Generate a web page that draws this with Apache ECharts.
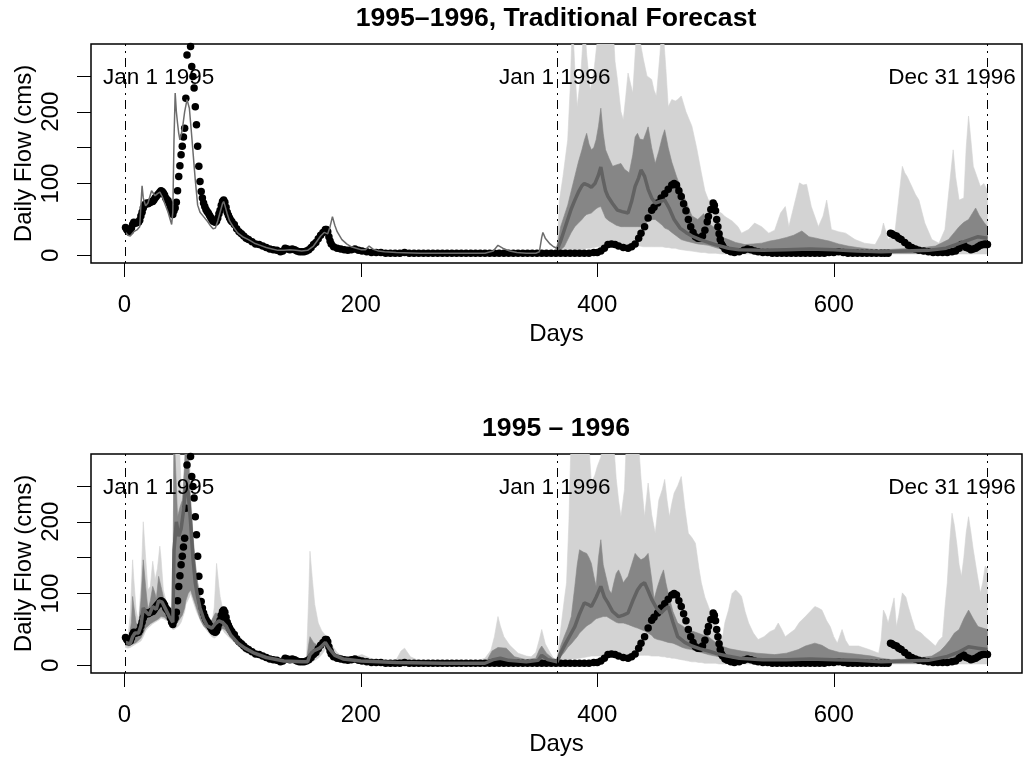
<!DOCTYPE html>
<html>
<head>
<meta charset="utf-8">
<script src="https://cdn.jsdelivr.net/npm/echarts@6/dist/echarts.min.js"></script>
<style>
  html, body { margin: 0; padding: 0; background: #fff; }
  #chart { width: 1023px; height: 761px; }
</style>
</head>
<body>
<div id="chart"></div>
<script>
// ---- data ----
// axis ticks
const xTicks = [0, 200, 400, 600];
const yTicks = [0, 50, 100, 150, 200, 250];
const yLabels = [0, 100, 200];
// dotdash markers + text
const vlineDays = [1, 366, 730];
const notes = [[29, 247, 'Jan 1 1995'], [364, 247, 'Jan 1 1996'], [700, 247, 'Dec 31 1996']];
const titles = ['1995\u20131996, Traditional Forecast', '1995 \u2013 1996'];

// observed daily flow [day, cms]
const obsFlow = [[1,39],[2,36],[3,34],[4,33],[5,34],[6,38],[7,43],[8,46],[9,45],[10,45],[11,46],[12,46],[13,49],[14,55],[15,60],[16,66],[17,70],[18,72],[19,73],[20,72],[21,73],[22,74],[23,75],[24,75],[25,77],[26,80],[27,82],[28,84],[29,86],[30,88],[31,90],[32,89],[33,87],[34,84],[35,80],[36,78],[37,76],[38,72],[39,66],[40,60],[41,57],[42,62],[43,66],[44,74],[45,90],[46,110],[47,125],[48,140],[49,152],[50,165],[51,177],[52,219],[53,279],[54,305],[55,320],[56,291],[57,263],[58,249],[59,233],[60,207],[61,182],[62,152],[63,124],[64,103],[65,89],[66,80],[67,73],[68,68],[69,64],[70,61],[71,59],[72,56],[73,53],[74,50],[75,48],[76,47],[77,46],[78,48],[79,52],[80,58],[81,63],[82,70],[83,75],[84,77],[85,74],[86,67],[87,60],[88,56],[89,52],[90,49],[91,47],[93,43],[95,37],[97,33],[99,30],[101,27],[103,24],[105,22],[108,19],[111,16],[114,15],[117,13],[120,11],[123,9],[126,8],[129,7],[132,5],[134,6],[136,10],[138,9],[140,8],[142,9],[144,8],[146,6],[148,5],[150,5],[152,5],[154,6],[156,8],[158,11],[160,15],[162,18],[164,23],[166,28],[168,32],[170,36],[171,36],[172,33],[173,26],[174,20],[175,16],[177,12],[180,10],[183,9],[186,8],[189,7],[192,8],[195,9],[198,7],[201,6],[205,5],[209,4],[213,4],[217,4],[221,3],[225,3],[229,3],[233,3],[237,4],[241,3],[245,3],[249,3],[253,3],[257,3],[261,3],[265,3],[269,3],[273,3],[277,3],[281,3],[285,3],[289,3],[293,3],[297,3],[301,3],[305,3],[309,3],[313,3],[317,3],[321,3],[325,3],[329,3],[333,3],[337,3],[341,3],[345,3],[349,3],[353,3],[357,3],[361,3],[365,3],[369,3],[373,3],[377,3],[381,3],[385,3],[389,3],[393,3],[397,4],[400,4],[403,6],[406,10],[409,15],[412,16],[415,15],[418,13],[422,11],[426,10],[429,12],[432,16],[435,24],[437,31],[440,40],[443,52],[446,63],[448,67],[451,73],[454,80],[457,86],[460,92],[463,98],[465,100],[467,98],[469,90],[471,82],[473,72],[475,62],[477,50],[479,40],[481,32],[483,26],[485,24],[487,24],[489,27],[491,35],[493,47],[494,54],[496,64],[498,73],[499,70],[500,62],[501,50],[502,40],[503,30],[504,22],[505,16],[506,13],[508,9],[510,7],[513,5],[516,4],[520,5],[524,7],[527,9],[530,8],[533,6],[536,5],[540,4],[544,4],[548,3],[552,3],[556,3],[560,3],[564,3],[568,3],[572,3],[576,3],[580,3],[584,3],[588,3],[592,3],[596,4],[600,4],[604,5],[608,4],[612,3],[616,3],[620,3],[624,3],[628,3],[632,3],[636,3],[640,3],[643,3],[646,3],[648,31],[649,30],[651,28],[653,27],[655,24],[657,22],[660,18],[663,14],[666,11],[669,9],[672,7],[676,6],[680,5],[684,4],[688,4],[692,4],[696,4],[700,5],[703,6],[706,10],[708,15],[710,14],[712,11],[714,10],[716,8],[718,9],[720,10],[722,12],[724,14],[726,15],[728,16],[730,15]];

// traditional (deterministic) simulation for 1995, top panel [day, cms]
const simFlow = [[1,32],[3,28],[5,27],[8,33],[11,36],[13,40],[14,70],[15,97],[16,80],[18,69],[20,73],[23,90],[26,83],[28,86],[30,88],[32,82],[34,73],[37,60],[40,43],[41,60],[42,161],[43,226],[44,200],[45,184],[46,170],[47,161],[49,175],[51,200],[53,217],[54,217],[55,205],[57,166],[59,125],[60,105],[62,70],[64,60],[67,54],[70,48],[73,41],[75,37],[77,38],[79,48],[81,60],[83,72],[84,75],[85,70],[87,58],[89,48],[92,40],[96,31],[100,26],[105,22],[110,17],[115,14],[120,11],[125,9],[130,7],[135,7],[140,8],[145,7],[150,6],[155,7],[160,13],[163,20],[166,27],[169,32],[172,30],[174,40],[176,54],[178,42],[180,33],[184,22],[188,16],[192,12],[196,10],[200,8],[204,8],[207,13],[210,9],[215,6],[220,5],[230,4],[250,3],[270,3],[290,3],[305,3],[312,6],[316,14],[320,10],[326,6],[332,4],[340,3],[348,3],[351,5],[353,25],[354,32],[356,24],[360,16],[363,12],[366,10]];

// top panel, 1996 ensemble: [day, low, high]
const p1Light = [[366,2,10],[368,3,77],[371,4,110],[375,5,161],[377,5,230],[379,6,330],[381,7,260],[383,7,207],[386,8,250],[389,9,330],[391,10,280],[394,10,230],[397,11,254],[400,12,300],[402,12,330],[405,12,300],[408,13,330],[411,13,300],[413,13,330],[415,13,270],[417,13,245],[420,13,200],[422,13,189],[424,13,220],[426,13,254],[428,13,240],[430,13,226],[432,13,280],[434,13,330],[436,13,300],[439,12,273],[442,12,250],[446,12,245],[448,12,230],[450,12,222],[453,12,280],[455,12,330],[458,11,260],[460,11,207],[463,10,217],[466,10,215],[468,9,217],[471,8,222],[475,7,200],[480,6,180],[484,5,150],[488,4,115],[491,4,90],[494,3,77],[497,3,77],[500,3,62],[505,2,59],[508,2,54],[514,2,48],[519,2,40],[522,2,31],[528,2,36],[533,2,45],[539,2,40],[545,2,31],[550,2,35],[555,2,59],[559,2,68],[562,2,40],[565,2,60],[569,2,87],[571,2,101],[574,2,98],[577,2,99],[581,2,68],[587,2,40],[591,2,55],[594,2,77],[598,2,36],[604,2,33],[610,2,31],[618,2,22],[626,2,17],[635,2,15],[640,2,30],[642,2,45],[646,2,22],[652,2,36],[655,2,80],[658,2,124],[660,2,115],[662,2,110],[666,2,96],[669,2,85],[672,2,77],[677,2,45],[683,2,22],[689,2,17],[694,2,36],[698,2,100],[701,2,147],[703,2,110],[706,2,77],[710,2,80],[712,2,150],[714,2,194],[716,2,160],[718,2,124],[721,2,110],[724,2,96],[727,2,100],[730,2,90]];
const p1Dark = [[366,4,12],[369,8,40],[372,12,55],[375,22,70],[378,32,90],[381,40,110],[384,45,130],[387,50,147],[389,54,160],[391,57,170],[393,58,155],[395,59,147],[397,62,150],[399,65,161],[401,67,180],[403,68,205],[405,60,170],[407,52,147],[410,48,135],[413,45,124],[416,42,126],[420,40,128],[423,40,120],[427,40,115],[430,40,140],[432,40,165],[434,40,170],[436,40,162],[439,42,161],[441,45,170],[443,48,179],[446,50,150],[449,50,128],[452,46,145],[455,42,165],[457,38,175],[460,36,150],[463,32,130],[467,27,110],[471,22,92],[475,20,75],[480,18,55],[485,16,50],[490,15,58],[494,14,45],[498,12,40],[502,10,38],[506,9,25],[511,8,22],[517,7,18],[525,6,15],[532,5,16],[539,4,17],[546,4,20],[553,4,22],[560,4,25],[566,4,28],[573,4,34],[576,4,30],[579,4,26],[585,4,24],[590,4,22],[596,3,20],[604,3,16],[612,3,13],[620,3,11],[630,3,9],[638,3,8],[645,3,8],[655,3,9],[666,3,10],[676,3,11],[686,3,13],[692,3,18],[697,4,22],[702,5,32],[706,6,40],[710,7,46],[714,8,50],[717,9,58],[720,10,66],[723,10,56],[727,10,46],[730,10,40]];
const p1Median = [[366,8],[369,20],[372,35],[375,50],[378,65],[381,77],[384,88],[387,97],[389,100],[392,98],[395,95],[398,100],[401,112],[403,123],[405,105],[407,90],[409,82],[413,72],[417,63],[421,61],[426,59],[429,75],[432,96],[435,108],[437,119],[440,110],[443,92],[446,80],[449,73],[453,75],[457,77],[461,65],[465,50],[470,38],[475,32],[480,27],[487,22],[494,18],[502,14],[511,10],[520,8],[540,7],[560,8],[580,9],[600,8],[620,6],[640,5],[660,6],[680,7],[695,10],[705,16],[715,22],[722,26],[730,24]];

// bottom panel, 1995-1996 ensemble: [day, low, high]
const p2Light = [[1,25,38],[3,24,40],[5,25,70],[7,27,147],[8,28,120],[10,30,77],[12,32,60],[14,34,110],[16,40,200],[18,48,150],[20,52,105],[22,55,110],[24,58,145],[26,60,119],[28,62,135],[30,64,166],[31,66,150],[33,65,105],[36,62,85],[39,55,63],[41,50,68],[42,50,330],[46,55,330],[48,60,250],[49,65,207],[51,75,250],[52,85,330],[55,95,300],[56,100,245],[58,90,184],[61,75,124],[65,60,92],[70,48,65],[74,40,59],[76,38,80],[78,40,142],[80,45,110],[81,47,96],[83,50,80],[85,45,68],[88,40,55],[91,35,45],[96,28,32],[102,18,22],[108,14,18],[116,10,13],[125,6,9],[139,4,7],[150,3,6],[154,3,5],[156,3,100],[157,4,159],[159,5,120],[161,7,85],[164,10,59],[167,15,48],[170,22,42],[173,18,35],[176,12,27],[180,8,18],[184,6,13],[192,5,11],[201,4,15],[208,3,10],[218,2,6],[230,2,8],[234,2,20],[237,2,24],[242,2,12],[250,2,6],[265,2,5],[280,2,4],[295,2,4],[305,2,10],[310,2,21],[313,2,40],[316,2,68],[318,2,55],[321,2,40],[326,2,28],[333,2,17],[340,2,13],[344,2,12],[348,2,18],[351,2,36],[353,2,50],[356,2,30],[360,2,18],[363,2,10],[365,2,8],[366,2,10],[369,4,50],[372,6,90],[374,7,115],[376,8,200],[378,9,330],[385,10,330],[392,12,330],[395,13,254],[398,13,265],[400,13,277],[403,13,290],[406,14,330],[413,14,330],[416,14,260],[418,14,230],[420,14,207],[423,14,245],[425,14,330],[434,14,330],[437,14,260],[440,14,207],[443,14,254],[446,13,210],[449,13,184],[452,13,230],[455,12,245],[457,12,259],[459,11,230],[461,11,207],[463,10,225],[465,10,240],[468,9,250],[471,8,263],[474,7,220],[477,6,184],[480,5,178],[483,5,170],[486,4,135],[488,4,115],[491,3,95],[494,3,82],[497,3,68],[500,3,54],[503,2,45],[506,2,40],[508,2,60],[511,2,77],[514,2,100],[517,2,105],[520,2,100],[522,2,96],[525,2,75],[528,2,59],[532,2,45],[536,2,36],[541,2,40],[546,2,47],[550,2,50],[553,2,59],[556,2,50],[559,2,40],[563,2,45],[567,2,50],[571,2,60],[576,2,68],[580,2,75],[584,2,82],[587,2,80],[590,2,77],[594,2,62],[597,2,54],[600,2,40],[603,2,31],[607,2,50],[610,2,35],[613,2,27],[621,2,27],[630,2,22],[638,2,17],[640,2,35],[642,2,77],[644,2,70],[646,2,59],[649,2,80],[651,2,94],[653,2,54],[655,2,70],[658,2,101],[661,2,95],[663,2,82],[666,2,65],[669,2,50],[674,2,45],[677,2,40],[682,2,33],[686,2,27],[689,2,35],[692,2,40],[694,2,80],[696,2,115],[698,2,170],[700,2,212],[702,2,195],[704,2,170],[706,2,140],[708,2,124],[710,2,150],[712,2,185],[714,2,207],[716,2,185],[718,2,161],[721,2,130],[724,2,101],[726,2,115],[728,2,138],[730,2,135]];
const p2Dark = [[1,28,36],[4,27,38],[6,29,60],[7,30,96],[9,31,70],[10,32,59],[12,35,55],[14,38,90],[16,45,147],[18,52,110],[20,55,77],[22,58,90],[24,60,110],[26,62,100],[27,63,92],[29,65,124],[31,68,110],[34,67,88],[37,62,72],[40,55,59],[41,52,80],[42,55,330],[45,60,207],[47,65,220],[49,70,230],[51,80,280],[52,90,330],[54,100,300],[56,105,226],[58,95,180],[60,85,142],[62,75,115],[64,65,92],[67,55,72],[70,50,59],[73,46,60],[77,45,73],[80,50,72],[82,52,68],[85,50,62],[88,44,50],[91,38,40],[96,30,33],[100,23,26],[105,18,21],[112,13,16],[120,10,12],[130,5,8],[140,5,7],[150,4,6],[154,4,6],[156,5,30],[157,6,40],[160,10,32],[164,16,27],[167,24,32],[170,28,36],[173,20,30],[176,14,20],[180,9,13],[190,6,10],[200,5,8],[215,3,5],[235,3,8],[245,3,5],[270,2,4],[300,2,4],[307,2,8],[311,3,20],[316,3,25],[323,3,24],[330,3,12],[340,3,8],[348,3,10],[351,3,22],[353,3,27],[357,3,17],[362,3,10],[366,3,8],[369,12,27],[372,18,40],[375,25,52],[378,30,68],[381,36,110],[383,40,140],[385,45,161],[388,50,158],[391,55,156],[393,57,150],[395,59,142],[397,62,125],[399,65,110],[401,66,150],[403,67,175],[405,68,140],[408,68,119],[410,66,105],[412,64,100],[414,62,115],[416,60,128],[418,59,133],[420,59,125],[422,59,115],[424,58,120],[426,57,124],[429,55,140],[432,53,156],[434,52,152],[437,50,147],[440,48,150],[443,45,156],[446,42,120],[448,38,92],[451,36,110],[454,35,125],[456,34,133],[458,33,115],[460,32,100],[464,31,75],[468,28,59],[472,25,55],[476,23,50],[480,22,48],[485,19,45],[490,17,42],[494,15,40],[500,13,32],[505,11,27],[512,9,23],[522,7,20],[535,5,17],[550,4,15],[560,4,17],[570,4,22],[576,4,27],[584,4,31],[590,4,28],[596,3,22],[605,3,18],[612,3,17],[622,3,15],[632,3,13],[640,3,10],[649,3,8],[660,3,9],[670,3,10],[683,3,13],[690,4,20],[694,5,27],[698,6,35],[702,7,45],[706,8,50],[710,9,65],[714,10,77],[718,11,65],[722,11,54],[726,11,52],[730,11,50]];
const p2Median = [[1,32],[5,30],[7,40],[9,45],[12,45],[14,55],[16,80],[18,75],[21,70],[24,82],[27,78],[29,90],[32,88],[35,78],[38,68],[41,60],[42,160],[44,200],[46,180],[48,190],[50,215],[52,250],[54,240],[56,200],[58,150],[60,115],[62,95],[64,80],[67,65],[70,55],[74,52],[77,58],[80,62],[83,60],[86,55],[90,42],[96,31],[102,24],[110,17],[120,11],[135,6],[150,5],[155,5],[157,15],[160,20],[165,24],[170,32],[173,24],[178,14],[185,9],[200,6],[230,4],[270,3],[305,3],[312,8],[318,10],[325,7],[340,5],[350,7],[353,14],[358,8],[366,5],[369,17],[373,30],[377,42],[381,54],[385,72],[389,87],[392,85],[395,82],[399,95],[403,110],[406,95],[409,87],[413,75],[418,68],[422,70],[426,73],[430,90],[434,105],[437,112],[440,115],[443,104],[446,92],[450,80],[454,73],[457,78],[460,82],[464,60],[468,40],[474,32],[480,27],[487,23],[494,20],[502,16],[510,13],[520,10],[540,8],[560,8],[580,9],[600,8],[620,7],[640,5],[660,6],[680,7],[695,12],[705,18],[714,26],[722,24],[730,22]];

// ---- chart ----
const FONT = '"Liberation Sans", Arial, Helvetica, sans-serif';
const LIGHT = '#d3d3d3';
const DARK = '#868686';
const MEDIAN = '#626262';
const SIM = '#6c6c6c';
const ink = '#000';

const chart = echarts.init(document.getElementById('chart'), null, { renderer: 'canvas' });

function xAxisFor(i) {
  return {
    gridIndex: i, type: 'value', min: -28.2, max: 759.2,
    splitLine: { show: false },
    axisLine: { show: false, onZero: false },
    axisTick: { show: true, length: 14, lineStyle: { color: ink, width: 1 }, customValues: xTicks },
    axisLabel: { customValues: xTicks, fontSize: 24, color: ink, margin: 30, fontFamily: FONT },
    name: 'Days', nameLocation: 'middle', nameGap: 59, nameMoveOverlap: false,
    nameTextStyle: { fontSize: 24, color: ink, fontFamily: FONT }
  };
}
function yAxisFor(i) {
  return {
    gridIndex: i, type: 'value', min: -10.6, max: 294.4,
    splitLine: { show: false },
    axisLine: { show: false, onZero: false },
    axisTick: { show: true, length: 14, lineStyle: { color: ink, width: 1 }, customValues: yTicks },
    axisLabel: { customValues: yLabels, rotate: 90, fontSize: 24, color: ink, margin: 28, fontFamily: FONT },
    name: 'Daily Flow (cms)', nameLocation: 'middle', nameGap: 55, nameRotate: 90, nameMoveOverlap: false,
    nameTextStyle: { fontSize: 24, color: ink, fontFamily: FONT }
  };
}

// a band = one polygon: highs left to right, then lows back again
function band(rows, i, color) {
  return {
    type: 'custom', xAxisIndex: i, yAxisIndex: i, silent: true,
    data: rows, encode: { x: 0, y: [1, 2] },
    renderItem: function (params, api) {
      if (params.dataIndex !== 0) return null;
      const top = rows.map(r => api.coord([r[0], r[2]]));
      const bottom = rows.map(r => api.coord([r[0], r[1]])).reverse();
      const cs = params.coordSys;
      return {
        type: 'polygon',
        shape: { points: top.concat(bottom) },
        style: { fill: color, stroke: color, lineWidth: 0.6 },
        clipPath: { type: 'rect', shape: { x: cs.x, y: cs.y, width: cs.width, height: cs.height } }
      };
    }
  };
}
function medianLine(rows, i) {
  return { type: 'line', xAxisIndex: i, yAxisIndex: i, silent: true, data: rows, symbol: 'none',
    lineStyle: { color: MEDIAN, width: 3.5 } };
}
function obsDots(i) {
  return { type: 'scatter', xAxisIndex: i, yAxisIndex: i, silent: true, data: obsFlow,
    symbol: 'circle', symbolSize: 7.5, itemStyle: { color: ink, opacity: 1 } };
}
function marks(i) {
  return {
    type: 'scatter', xAxisIndex: i, yAxisIndex: i, silent: true, z: 10,
    data: notes.map(n => ({ value: [n[0], n[1]], name: n[2] })),
    symbolSize: 0,
    label: { show: true, position: 'inside', formatter: '{b}', fontSize: 22.5, color: ink,
      textBorderWidth: 0, opacity: 1, fontFamily: FONT },
    markLine: {
      silent: true, symbol: ['none', 'none'], label: { show: false },
      lineStyle: { color: ink, width: 1, opacity: 1, type: [2, 5, 9, 5] },
      data: vlineDays.map(d => ({ xAxis: d }))
    }
  };
}

const gridBase = { show: true, borderColor: ink, borderWidth: 1.5, outerBoundsMode: 'none', containLabel: false };

const option = {
  animation: false,
  backgroundColor: '#fff',
  textStyle: { fontFamily: FONT },
  grid: [
    Object.assign({ left: 91, top: 44, width: 931, height: 219 }, gridBase),
    Object.assign({ left: 91, top: 454, width: 931, height: 219 }, gridBase)
  ],
  xAxis: [xAxisFor(0), xAxisFor(1)],
  yAxis: [yAxisFor(0), yAxisFor(1)],
  graphic: titles.map((t, k) => ({
    type: 'text', x: 556, y: 19 + k * 410, silent: true,
    style: { text: t, align: 'center', verticalAlign: 'middle', fill: ink,
      font: 'bold 26.6px "Liberation Sans", Arial, sans-serif' }
  })),
  series: [
    band(p1Light, 0, LIGHT),
    band(p1Dark, 0, DARK),
    medianLine(p1Median, 0),
    { type: 'line', xAxisIndex: 0, yAxisIndex: 0, silent: true, data: simFlow, symbol: 'none',
      lineStyle: { color: SIM, width: 1.5 } },
    obsDots(0),
    marks(0),
    band(p2Light, 1, LIGHT),
    band(p2Dark, 1, DARK),
    medianLine(p2Median, 1),
    obsDots(1),
    marks(1)
  ]
};
chart.setOption(option);
</script>
</body>
</html>
